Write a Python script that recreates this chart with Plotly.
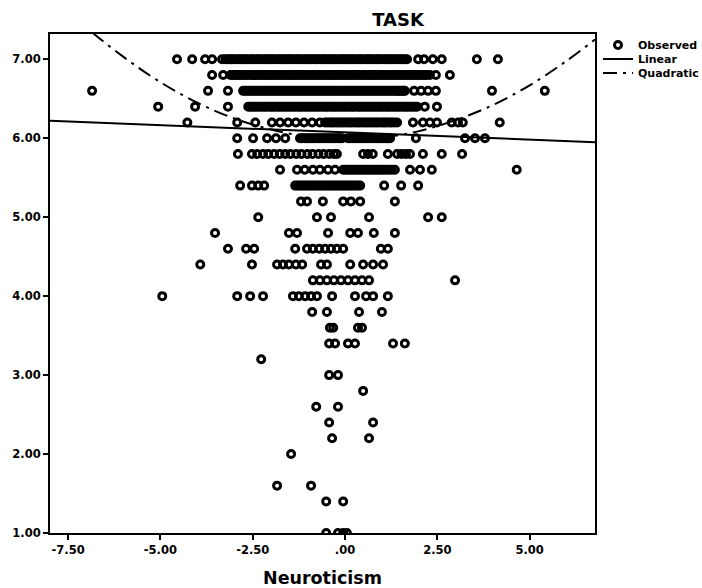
import plotly.graph_objects as go

# ---- Observed data: Neuroticism values read for each TASK level ----
task_700 = [-4.55, -4.14, -3.79, -3.60, -3.33, -3.24, -3.12, -3.02, -2.88, -2.77, -2.66, -2.52, -2.41,
            -2.30, -2.16, -2.05, -1.94, -1.80, -1.70, -1.57, -1.46, -1.33, -1.22, -1.08, -0.98, -0.85,
            -0.74, -0.60, -0.50, -0.37, -0.26, -0.12, -0.02, 0.11, 0.22, 0.36, 0.46, 0.60, 0.70, 0.84,
            0.94, 1.08, 1.18, 1.31, 1.44, 1.55, 1.68, 1.98, 2.14, 2.38, 2.62, 3.57, 4.14]
task_700_b = [-3.18, -3.07, -2.95, -2.83, -2.71, -2.59, -2.47, -2.35, -2.23, -2.10, -1.99, -1.87,
              -1.75, -1.63, -1.51, -1.40, -1.27, -1.15, -1.03, -0.91, -0.79, -0.67, -0.55, -0.43,
              -0.31, -0.19, -0.07, 0.05, 0.17, 0.29, 0.41, 0.53, 0.65, 0.77, 0.89, 1.01, 1.13, 1.25,
              1.37, 1.50, 1.62]
task_680 = [-3.60, -3.30, -3.10, -2.98, -2.86, -2.73, -2.62, -2.49, -2.38, -2.24, -2.13, -2.01, -1.88,
            -1.77, -1.64, -1.52, -1.41, -1.28, -1.16, -1.05, -0.92, -0.81, -0.68, -0.56, -0.44, -0.32,
            -0.20, -0.08, 0.05, 0.16, 0.29, 0.41, 0.52, 0.66, 0.77, 0.90, 1.01, 1.14, 1.26, 1.38, 1.50,
            1.63, 1.74, 1.87, 1.98, 2.10, 2.21, 2.30, 2.46, 2.84]
task_680_b = [-3.04, -2.92, -2.80, -2.68, -2.55, -2.43, -2.31, -2.19, -2.07, -1.95, -1.83, -1.70,
              -1.58, -1.46, -1.35, -1.22, -1.10, -0.98, -0.86, -0.74, -0.62, -0.50, -0.38, -0.26,
              -0.14, -0.02, 0.10, 0.22, 0.35, 0.47, 0.59, 0.71, 0.83, 0.95, 1.07, 1.20, 1.32, 1.44,
              1.56, 1.68, 1.80, 1.92, 2.04, 2.16]
task_660 = [-6.85, -3.71, -3.17, -2.76, -2.64, -2.52, -2.40, -2.27, -2.16, -2.03, -1.92, -1.79, -1.68,
            -1.55, -1.44, -1.31, -1.20, -1.07, -0.96, -0.83, -0.72, -0.59, -0.48, -0.35, -0.24, -0.11,
            0.00, 0.13, 0.24, 0.37, 0.48, 0.61, 0.72, 0.85, 0.96, 1.09, 1.20, 1.33, 1.44, 1.53, 1.62,
            1.87, 2.06, 2.25, 2.46, 3.98, 5.41]
task_660_b = [-2.70, -2.58, -2.46, -2.33, -2.21, -2.09, -1.97, -1.85, -1.73, -1.61, -1.49, -1.37,
              -1.25, -1.13, -1.01, -0.89, -0.77, -0.65, -0.53, -0.41, -0.29, -0.17, -0.05, 0.07,
              0.19, 0.31, 0.43, 0.55, 0.67, 0.79, 0.91, 1.03, 1.15, 1.27, 1.39, 1.49, 1.58]
task_640 = [-5.06, -4.06, -3.17, -2.62, -2.50, -2.38, -2.25, -2.14, -2.01, -1.90, -1.77, -1.66, -1.53,
            -1.42, -1.29, -1.18, -1.05, -0.94, -0.81, -0.70, -0.57, -0.46, -0.33, -0.22, -0.09, 0.02,
            0.15, 0.26, 0.39, 0.50, 0.63, 0.74, 0.87, 0.98, 1.11, 1.22, 1.35, 1.46, 1.59, 1.70, 1.83,
            1.95, 2.16, 2.49]
task_640_b = [-2.56, -2.44, -2.31, -2.19, -2.07, -1.95, -1.83, -1.71, -1.59, -1.47, -1.35, -1.23,
              -1.11, -0.99, -0.87, -0.75, -0.63, -0.51, -0.39, -0.27, -0.15, -0.03, 0.09, 0.21,
              0.33, 0.45, 0.57, 0.69, 0.81, 0.93, 1.05, 1.17, 1.29, 1.41, 1.53, 1.65, 1.77, 1.89]
task_620 = [-4.27, -2.92, -2.43, -1.98, -1.76, -1.54, -1.33, -1.11, -0.89, -0.68, -0.54, -0.42, -0.31,
            -0.18, -0.07, 0.06, 0.17, 0.30, 0.41, 0.54, 0.65, 0.78, 0.89, 1.02, 1.13, 1.26, 1.41,
            1.84, 2.11, 2.30, 2.49, 2.89, 3.06, 3.19, 4.19]
task_620_b = [-0.48, -0.36, -0.24, -0.12, 0.00, 0.12, 0.24, 0.36, 0.48, 0.60, 0.72, 0.84, 0.96,
              1.08, 1.20, 1.33]
task_600 = [-2.92, -2.49, -2.11, -1.87, -1.62, -1.22, -1.10, -0.97, -0.86, -0.73, -0.62, -0.49, -0.38,
            -0.25, -0.14, -0.08, 0.08, 0.20, 0.31, 0.44, 0.55, 0.68, 0.79, 0.92, 1.03, 1.14, 1.22,
            1.92, 3.25, 3.52, 3.79]
task_600_b = [-1.16, -1.04, -0.92, -0.80, -0.68, -0.56, -0.44, -0.31, -0.19, 0.14, 0.26, 0.38, 0.50,
              0.62, 0.74, 0.86, 0.98, 1.09, 1.18]
task_580 = [-2.90, -2.52, -2.38, -2.22, -2.08, -1.92, -1.77, -1.62, -1.48, -1.32, -1.18, -1.02, -0.88,
            -0.72, -0.58, -0.43, -0.30, -0.22, 0.49, 0.62, 0.75, 1.16, 1.41, 1.53, 1.65, 1.76, 2.11,
            2.62, 3.17]
task_560 = [-1.76, -1.30, -1.09, -0.87, -0.68, -0.46, -0.27, -0.05, 0.07, 0.19, 0.32, 0.44, 0.57,
            0.69, 0.82, 0.94, 1.07, 1.20, 1.35, 1.76, 2.03, 2.35, 4.65]
task_560_b = [0.01, 0.13, 0.26, 0.38, 0.50, 0.63, 0.75, 0.88, 1.00, 1.13, 1.27]
task_540 = [-2.84, -2.52, -2.35, -2.19, -1.35, -1.22, -1.10, -0.97, -0.85, -0.72, -0.60, -0.47, -0.35,
            -0.22, -0.10, 0.03, 0.15, 0.28, 0.41, 1.06, 1.52, 1.98]
task_540_b = [-1.29, -1.16, -1.04, -0.91, -0.79, -0.66, -0.54, -0.41, -0.29, -0.16, -0.04, 0.09,
              0.21, 0.34]
task_520 = [-1.19, -1.03, -0.60, -0.05, 0.16, 0.41, 1.35]
task_500 = [-2.35, -0.76, -0.38, 0.65, 2.25, 2.62]
task_480 = [-3.52, -1.52, -1.30, -0.46, 0.14, 0.35, 0.78, 1.35]
task_460 = [-3.17, -2.68, -2.46, -1.35, -1.03, -0.87, -0.70, -0.54, -0.38, -0.22, -0.05, 0.97, 1.16]
task_440 = [-3.92, -2.52, -1.84, -1.68, -1.52, -1.33, -1.16, -0.65, -0.49, 0.14, 0.49, 0.76, 1.03]
task_420 = [-0.87, -0.68, -0.49, -0.30, -0.11, 0.08, 0.27, 0.46, 0.65, 2.98]
task_400 = [-4.95, -2.92, -2.57, -2.22, -1.41, -1.25, -1.08, -0.92, -0.76, -0.35, 0.27, 0.57, 0.76, 1.16]
task_380 = [-0.89, -0.49, 0.38, 1.00]
task_360 = [-0.41, -0.32, 0.35, 0.46]
task_340 = [-0.43, -0.27, 0.08, 0.27, 1.30, 1.62]
task_320 = [-2.27]
task_300 = [-0.43, -0.19]
task_280 = [0.49]
task_260 = [-0.78, -0.19]
task_240 = [-0.43, 0.76]
task_220 = [-0.35, 0.65]
task_200 = [-1.46]
task_160 = [-1.84, -0.92]
task_140 = [-0.51, -0.05]
task_100 = [-0.51, -0.19, -0.05, 0.05]

task_levels = [7.0, 7.0, 6.8, 6.8, 6.6, 6.6, 6.4, 6.4, 6.2, 6.2, 6.0, 6.0, 5.8, 5.6, 5.6, 5.4, 5.4,
               5.2, 5.0, 4.8, 4.6, 4.4, 4.2, 4.0, 3.8, 3.6, 3.4, 3.2, 3.0, 2.8, 2.6, 2.4, 2.2, 2.0,
               1.6, 1.4, 1.0]
task_rows = [task_700, task_700_b, task_680, task_680_b, task_660, task_660_b, task_640, task_640_b,
             task_620, task_620_b, task_600, task_600_b, task_580, task_560, task_560_b,
             task_540, task_540_b, task_520, task_500, task_480, task_460, task_440, task_420,
             task_400, task_380, task_360, task_340, task_320, task_300, task_280, task_260,
             task_240, task_220, task_200, task_160, task_140, task_100]

# ---- Fitted lines ----
linear_x = [-7.99, 6.77]
linear_y = [6.22, 5.95]
quad_x = [-8.0, -7.0, -6.0, -5.0, -4.0, -3.0, -2.0, -1.0, 0.0, 1.0, 2.0, 3.0, 4.0, 5.0, 6.0, 6.77]
quad_y = [7.83, 7.40, 7.03, 6.71, 6.45, 6.25, 6.11, 6.02, 5.98, 6.01, 6.09, 6.23, 6.42, 6.67, 6.98, 7.25]

x_tickvals = [-7.5, -5.0, -2.5, 0.0, 2.5, 5.0]
x_ticktext = ["-7.50", "-5.00", "-2.50", ".00", "2.50", "5.00"]
y_tickvals = [1, 2, 3, 4, 5, 6, 7]
y_ticktext = ["1.00", "2.00", "3.00", "4.00", "5.00", "6.00", "7.00"]

obs_x, obs_y = [], []
for lvl, row in zip(task_levels, task_rows):
    obs_x.extend(row)
    obs_y.extend([lvl] * len(row))

FONT = "DejaVu Sans"
W, H = 702, 588
ML, MR, MT, MB = 50, 107, 34, 55
PW, PH = W - ML - MR, H - MT - MB


def px_to_paper_x(px):
    return (px - ML) / PW


def px_to_paper_y(py):
    return (H - MB - py) / PH


fig = go.Figure()
fig.add_trace(go.Scatter(
    x=obs_x, y=obs_y, mode="markers", name="Observed", legend="legend",
    marker=dict(symbol="circle-open", size=7, color="black", line=dict(width=3, color="black")),
))
fig.add_trace(go.Scatter(
    x=linear_x, y=linear_y, mode="lines", name="Linear", legend="legend2",
    line=dict(color="black", width=2),
))
fig.add_trace(go.Scatter(
    x=quad_x, y=quad_y, mode="lines", name="Quadratic", legend="legend3",
    line=dict(color="black", width=2, dash="14px,6px,3px,6px", shape="spline"),
))

legend_font = dict(family=FONT, size=11, weight="bold", color="black")
legend_common = dict(xanchor="left", yanchor="middle", xref="paper", yref="paper",
                     font=legend_font, bgcolor="rgba(0,0,0,0)", itemwidth=30,
                     borderwidth=0)

fig.update_layout(
    width=W, height=H,
    margin=dict(l=ML, r=MR, t=MT, b=MB, autoexpand=False),
    paper_bgcolor="white", plot_bgcolor="white",
    font=dict(family=FONT, color="black", size=11, weight="bold"),
    title=dict(text="TASK", x=px_to_paper_x(398), xref="paper", xanchor="center",
               y=1 - 20 / H, yref="container", yanchor="middle",
               font=dict(family=FONT, size=18, weight="bold", color="black")),
    showlegend=True,
    legend=dict(x=px_to_paper_x(598), y=px_to_paper_y(45), **legend_common),
    legend2=dict(x=px_to_paper_x(598), y=px_to_paper_y(59), **legend_common),
    legend3=dict(x=px_to_paper_x(598), y=px_to_paper_y(73), **legend_common),
    xaxis=dict(range=[-7.99, 6.77], tickvals=x_tickvals, ticktext=x_ticktext,
               ticks="outside", ticklen=5, tickwidth=2, tickcolor="black",
               showline=True, linewidth=2, linecolor="black", mirror=True,
               showgrid=False, zeroline=False,
               tickfont=dict(family=FONT, size=11.5, weight="bold"),
               title=dict(text="Neuroticism", standoff=16,
                          font=dict(family=FONT, size=17.5, weight="bold"))),
    yaxis=dict(range=[1.0, 7.32], tickvals=y_tickvals, ticktext=y_ticktext,
               ticks="outside", ticklen=5, tickwidth=2, tickcolor="black",
               showline=True, linewidth=2, linecolor="black", mirror=True,
               showgrid=False, zeroline=False,
               tickfont=dict(family=FONT, size=11.5, weight="bold")),
)

fig.write_html("out.html")
